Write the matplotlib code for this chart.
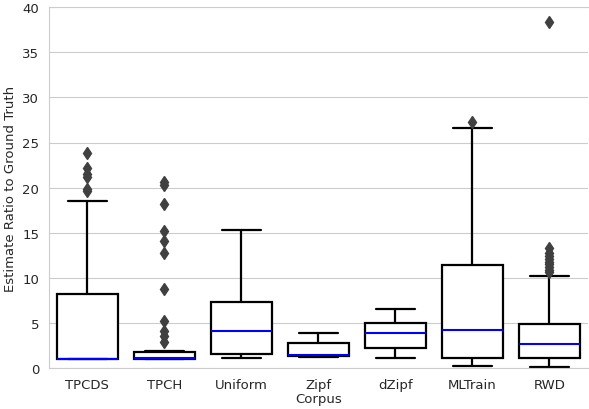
import numpy as np
import matplotlib.pyplot as plt
import seaborn as sns

# category names
corpora = ["TPCDS", "TPCH", "Uniform", "Zipf", "dZipf", "MLTrain", "RWD"]

# box statistics
q1 = [1.0, 1.05, 1.55, 1.35, 2.2, 1.1, 1.1]
med = [1.05, 1.07, 4.13, 1.4, 3.9, 4.25, 2.7]
q3 = [8.25, 1.75, 7.3, 2.75, 5.0, 11.4, 4.87]
whislo = [1.0, 1.0, 1.07, 1.18, 1.1, 0.22, 0.11]
whishi = [18.5, 1.9, 15.3, 3.88, 6.55, 26.6, 10.25]
fliers = [
    [19.6, 19.9, 21.2, 21.5, 22.2, 23.8],
    [2.9, 3.6, 4.1, 5.2, 8.8, 12.8, 14.1, 15.2, 18.2, 20.3, 20.6],
    [],
    [],
    [],
    [27.3],
    [10.6, 10.9, 11.2, 11.5, 11.8, 12.1, 12.4, 12.8, 13.3, 38.4],
]

sns.set_style("whitegrid")
plt.rcParams["font.size"] = 9.5

stats = []
for name, a, m, b, lo, hi, fl in zip(corpora, q1, med, q3, whislo, whishi, fliers):
    stats.append(dict(label=name, q1=a, med=m, q3=b, whislo=lo, whishi=hi, fliers=fl))

fig = plt.figure(figsize=(5.89, 4.10), dpi=100)
ax = fig.add_axes([0.083, 0.1, 0.915, 0.88])

ax.bxp(stats, positions=np.arange(len(corpora)), widths=0.8, capwidths=0.5,
       patch_artist=True, manage_ticks=False,
       boxprops=dict(facecolor="white", edgecolor="black", linewidth=1.6),
       whiskerprops=dict(color="black", linewidth=1.6),
       capprops=dict(color="black", linewidth=1.6),
       medianprops=dict(color="blue", linewidth=1.5),
       flierprops=dict(marker="d", markerfacecolor="0.25", markeredgecolor="0.25",
                       markersize=6, linestyle="none"))

ax.set_xticks(np.arange(len(corpora)))
ax.set_xticklabels(corpora, fontsize=9.5)
ax.tick_params(axis="y", labelsize=9.5)
ax.set_xlim(-0.5, len(corpora) - 0.5)
ax.set_ylim(0, 40)
ax.set_yticks(np.arange(0, 41, 5))
ax.xaxis.grid(False)
ax.spines["right"].set_visible(False)
ax.set_xlabel("Corpus", labelpad=1, fontsize=9.5)
ax.set_ylabel("Estimate Ratio to Ground Truth", fontsize=9.5)

fig.savefig("out.png", dpi=100)
